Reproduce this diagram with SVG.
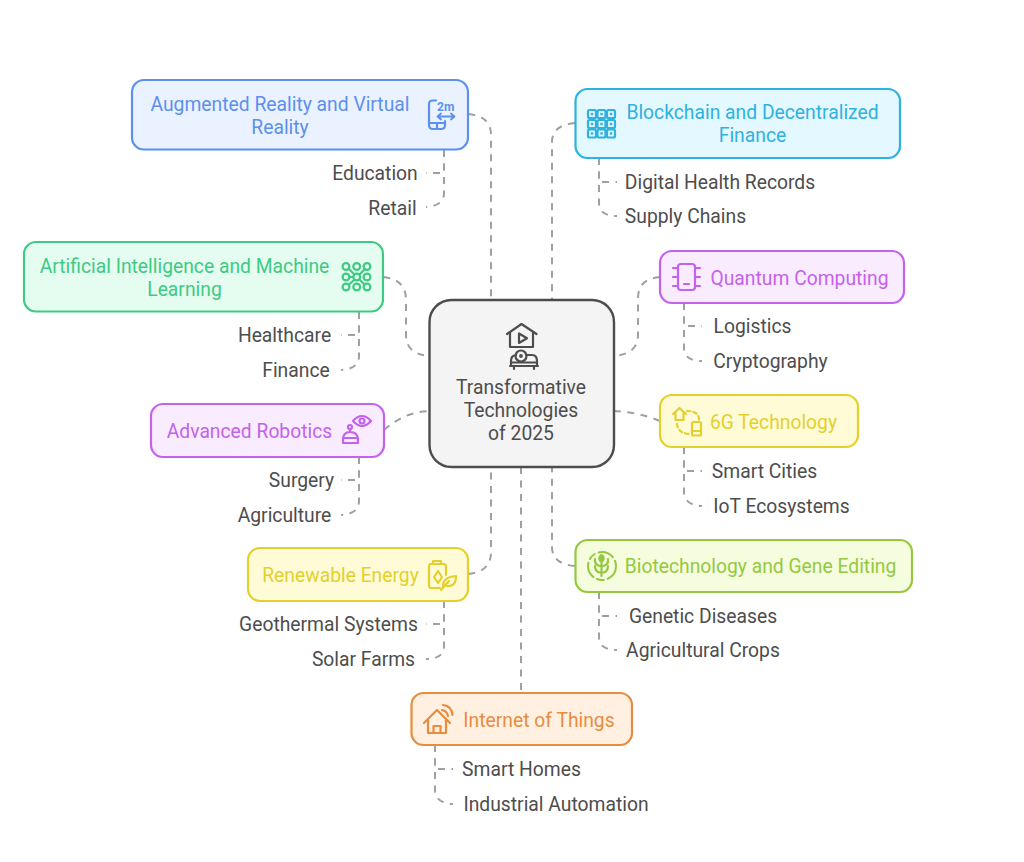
<svg xmlns="http://www.w3.org/2000/svg" width="1024" height="862" viewBox="0 0 1024 862">
<style>
text{font-family:Roboto,"Liberation Sans",sans-serif;font-size:19.3px;text-anchor:middle;transform:translateY(0.7px)}
.sub{fill:#4d4d4d}
.box{stroke-width:2.2}
.ic{fill:none;stroke-width:2.2;stroke-linecap:round;stroke-linejoin:round}
#connectors path{fill:none;stroke:#a0a0a0;stroke-width:2;stroke-dasharray:7 6.5}
text.blue{fill:#5b90ee;stroke:none}.blue{stroke:#5b90ee}
.cyan{stroke:#2eb2df}text.cyan{fill:#2eb2df;stroke:none}
.green{stroke:#3fca84}text.green{fill:#3fca84;stroke:none}
.purple{stroke:#c462ec}text.purple{fill:#c462ec;stroke:none}
.yellow{stroke:#e4d02c}text.yellow{fill:#e4d02c;stroke:none}
.lime{stroke:#94c93f}text.lime{fill:#94c93f;stroke:none}
.orange{stroke:#e98c3c}text.orange{fill:#e98c3c;stroke:none}
.grey{stroke:#4d4d4d}
.dot{fill:#2eb2df;stroke:none}
</style>
<rect width="1024" height="862" fill="#fff"/>
<g id="connectors">
<path d="M468 114Q491 116 491 135V300"/>
<path d="M575 123Q552 125 552 142V300"/>
<path d="M383 277Q406 279 406 300V335Q406 354 429 356"/>
<path d="M660 277Q638 279 638 298V335Q638 354 614 356"/>
<path d="M384 430Q404 412 429 411"/>
<path d="M660 421Q638 412 614 411"/>
<path d="M468 574Q491 572 491 552V467"/>
<path d="M575 566Q552 564 552 547V467"/>
<path d="M521 467V693"/>
<path d="M444 150V173H426"/>
<path d="M444 150V193Q444 206 426 207"/>
<path d="M599 158V182H617"/>
<path d="M599 158V203Q599 216 617 216"/>
<path d="M359 312V335H341"/>
<path d="M359 312V356Q359 369 341 370"/>
<path d="M684 303V326H702"/>
<path d="M684 303V348Q684 361 702 361"/>
<path d="M359 457V480H341"/>
<path d="M359 457V501Q359 514 341 515"/>
<path d="M684 447V471H702"/>
<path d="M684 447V492Q684 505 702 506"/>
<path d="M444 601V624H426"/>
<path d="M444 601V646Q444 659 426 659"/>
<path d="M599 592V616H617"/>
<path d="M599 592V637Q599 650 617 650"/>
<path d="M435 745V769H453"/>
<path d="M435 745V790Q435 803 453 804"/>
</g>
<g id="center">
<rect x="429.500" y="300" width="184.500" height="167" rx="22" fill="#f4f4f4" stroke="#4d4d4d" stroke-width="2.400"/>
<g class="ic grey">
<path d="M507 334L521.500 324L536.500 334M510 332V347H533V332"/>
<path d="M519 333.500V343L527 338.200Z"/>
<circle cx="521" cy="356" r="5.500"/><circle cx="521" cy="356" r="0.800"/>
<path d="M511 366V361Q511 355.500 516 355M526 355H532Q537 355 537 361V366M510 366H538M514 366V369M534 366V369M511 362.500H537"/>
</g>
<text class="sub" x="521" y="393">Transformative</text>
<text class="sub" x="521" y="416">Technologies</text>
<text class="sub" x="521" y="439">of 2025</text>
</g>
<g id="ar">
<rect class="box blue" x="132" y="80" width="336" height="69.500" rx="12" fill="#ebf2ff"/>
<g class="ic blue">
<path d="M436 100.500H433Q429 100.500 429 104V125Q429 129 433 129H441Q445 129 445 125V121"/>
<path d="M429 123H445M437 123V129"/>
<path d="M438 116.500H454M441 113.500L437.500 116.500L441 119.500M451 113.500L454.500 116.500L451 119.500" stroke-width="1.800"/>
</g>
<text x="437" y="110.500" style="font-size:12px;font-weight:700;text-anchor:start" class="blue">2m</text>
<text class="blue" x="280" y="110">Augmented Reality and Virtual</text>
<text class="blue" x="280" y="133">Reality</text>
<text class="sub" x="375" y="179">Education</text>
<text class="sub" x="392.500" y="214">Retail</text>
</g>
<g id="blockchain">
<rect class="box cyan" x="575.500" y="89" width="324.500" height="69" rx="12" fill="#e4f8ff"/>
<g class="ic cyan" stroke-width="2">
<rect x="588" y="110" width="8" height="8" rx="1.500"/><rect x="597.500" y="110" width="8" height="8" rx="1.500"/><rect x="607" y="110" width="8" height="8" rx="1.500"/>
<rect x="588" y="120" width="8" height="8" rx="1.500"/><rect x="597.500" y="120" width="8" height="8" rx="1.500"/><rect x="607" y="120" width="8" height="8" rx="1.500"/>
<rect x="588" y="129.500" width="8" height="8" rx="1.500"/><rect x="597.500" y="129.500" width="8" height="8" rx="1.500"/><rect x="607" y="129.500" width="8" height="8" rx="1.500"/>
</g>
<g>
<rect class="dot" x="590.800" y="112.800" width="2.400" height="2.400"/><rect class="dot" x="600.300" y="112.800" width="2.400" height="2.400"/><rect class="dot" x="609.800" y="112.800" width="2.400" height="2.400"/>
<rect class="dot" x="590.800" y="122.800" width="2.400" height="2.400"/><rect class="dot" x="600.300" y="122.800" width="2.400" height="2.400"/><rect class="dot" x="609.800" y="122.800" width="2.400" height="2.400"/>
<rect class="dot" x="590.800" y="132.300" width="2.400" height="2.400"/><rect class="dot" x="600.300" y="132.300" width="2.400" height="2.400"/><rect class="dot" x="609.800" y="132.300" width="2.400" height="2.400"/>
</g>
<text class="cyan" x="752.500" y="118">Blockchain and Decentralized</text>
<text class="cyan" x="752.500" y="141">Finance</text>
<text class="sub" x="720" y="188">Digital Health Records</text>
<text class="sub" x="685.500" y="222">Supply Chains</text>
</g>
<g id="ai">
<rect class="box green" x="24" y="242" width="359" height="69.500" rx="12" fill="#e4fdf0"/>
<g class="ic green">
<circle cx="346" cy="266.500" r="3.400"/><circle cx="356.700" cy="266.500" r="3.400"/><circle cx="367" cy="266.500" r="3.400"/>
<circle cx="346" cy="277" r="3.400"/><circle cx="356.700" cy="277" r="3.400"/><circle cx="367" cy="277" r="3.400"/>
<circle cx="346" cy="287" r="3.400"/><circle cx="356.700" cy="287" r="3.400"/><circle cx="367" cy="287" r="3.400"/>
<path d="M349 269L354 274M360 274L365 269M349.500 277H353M349 284.500L354 280M360 280L364.500 284.500"/>
</g>
<text class="green" x="184.500" y="272">Artificial Intelligence and Machine</text>
<text class="green" x="184.500" y="295">Learning</text>
<text class="sub" x="284.500" y="341">Healthcare</text>
<text class="sub" x="296" y="376">Finance</text>
</g>
<g id="quantum">
<rect class="box purple" x="660" y="251" width="244" height="52" rx="12" fill="#f9ecff"/>
<g class="ic purple">
<rect x="678" y="264" width="17" height="26" rx="3"/>
<path d="M673 268H678M673 277H678M673 286H678M695 268H700M695 277H700M695 286H700M684 284H689"/>
</g>
<text class="purple" x="799.500" y="284">Quantum Computing</text>
<text class="sub" x="752.500" y="332">Logistics</text>
<text class="sub" x="770.500" y="367">Cryptography</text>
</g>
<g id="robotics">
<rect class="box purple" x="151" y="404" width="233" height="53" rx="12" fill="#f9ecff"/>
<g class="ic purple">
<path d="M353 421Q362 411 371 421Q362 431 353 421Z"/><circle cx="362" cy="421" r="2.500"/>
<circle cx="350" cy="427" r="2"/>
<path d="M350 429V432M343 443V440Q343 432 350 432Q358 432 358 440V443Z"/>
<path d="M343 438H358"/>
</g>
<text class="purple" x="249.500" y="437">Advanced Robotics</text>
<text class="sub" x="301.500" y="486">Surgery</text>
<text class="sub" x="284.500" y="521">Agriculture</text>
</g>
<g id="sixg">
<rect class="box yellow" x="660" y="395" width="198" height="52" rx="12" fill="#fffbd6"/>
<g class="ic yellow">
<path d="M673 414L679.500 408L686 414M675.500 413V420H683.500V413"/>
<path d="M687 411Q699 411 699 420M677 424Q678 433 689 434" stroke-dasharray="3.500 3"/>
<rect x="692" y="422" width="9" height="13.500" rx="1.500"/><path d="M692 431H701"/>
</g>
<text class="yellow" x="773.500" y="428">6G Technology</text>
<text class="sub" x="764.500" y="477">Smart Cities</text>
<text class="sub" x="781.500" y="512">IoT Ecosystems</text>
</g>
<g id="renewable">
<rect class="box yellow" x="248" y="548" width="220" height="53" rx="12" fill="#fffbd6"/>
<g class="ic yellow">
<path d="M440 588H431Q429 588 429 585V567Q429 564 431 564H444Q446 564 446 567V575M433 564V561H441V564"/>
<path d="M438 571L434 577L438 583L442 577Z"/>
<path d="M443 588Q442 577 456 576Q456 587 447 586M441 590L449 581"/>
</g>
<text class="yellow" x="340.500" y="581">Renewable Energy</text>
<text class="sub" x="328.500" y="630">Geothermal Systems</text>
<text class="sub" x="363.500" y="665">Solar Farms</text>
</g>
<g id="biotech">
<rect class="box lime" x="575.500" y="540" width="336.500" height="52" rx="12" fill="#f5fdde"/>
<g class="ic lime">
<circle cx="602" cy="566" r="14" stroke-dasharray="16 4 7 4" stroke-width="2"/>
<path d="M601.500 576V557M601.500 555Q597 558 601.500 562Q606 558 601.500 555ZM595 559Q594 565 600 566M608 559Q609 565 603 566M595 566Q595 572 600 572.500M608 566Q608 572 603 572.500" fill="#94c93f" fill-opacity="0.25"/>
</g>
<text class="lime" x="760.500" y="572">Biotechnology and Gene Editing</text>
<text class="sub" x="703" y="622">Genetic Diseases</text>
<text class="sub" x="703" y="656">Agricultural Crops</text>
</g>
<g id="iot">
<rect class="box orange" x="411.500" y="693" width="220.500" height="52" rx="12" fill="#fff0e2"/>
<g class="ic orange">
<path d="M424 723L437 710L450 723M428 720V733H446V720"/>
<path d="M433.500 733V726H440.500V733"/>
<path d="M442 710Q447 711 448 716M443 705Q452 706 452.500 715"/>
</g>
<text class="orange" x="539" y="726">Internet of Things</text>
<text class="sub" x="521.500" y="775">Smart Homes</text>
<text class="sub" x="556" y="810">Industrial Automation</text>
</g>
</svg>
